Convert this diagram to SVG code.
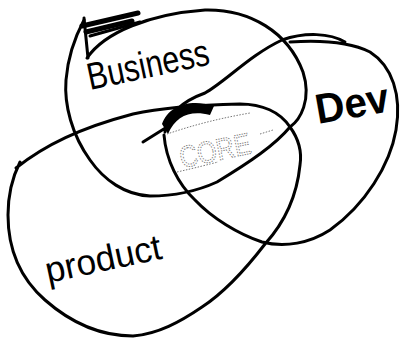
<svg xmlns="http://www.w3.org/2000/svg" width="404" height="343" viewBox="0 0 404 343">
<style>
.loop{fill:none;stroke:#000;stroke-width:3;stroke-linecap:round;stroke-linejoin:round}
.scrib{fill:none;stroke:#000;stroke-linecap:round}
.lbl{font-family:"Liberation Sans",Arial,sans-serif;fill:#000}
.core{fill:none;stroke:#777;stroke-width:1;stroke-dasharray:1.5 1.5}
</style>
<rect width="404" height="343" fill="#fff"/>
<g id="business">
<path class="loop" d="M87,58 C105,32 150,14 205,10 C250,9 288,32 303,72 C312,100 300,120 290,127 C275,145 250,162 217,182 C195,192 175,196 150,196 C125,195 104,180 90,160 C72,135 64,105 66,80 C68,55 76,35 84,20"/>
<path class="scrib" stroke-width="5" d="M82,26 L138,13 M86,32 L132,21"/>
<path class="scrib" stroke-width="3" d="M84,18 L88,58 M90,36 L140,22"/>
<text class="lbl" x="90" y="90" font-size="38" textLength="124" lengthAdjust="spacingAndGlyphs" transform="rotate(-12 90 90)">Business</text>
</g>
<g id="dev">
<path class="loop" d="M143,142 L167,127 M165,132 C168,115 180,102 205,93 C225,82 250,55 282,40 C305,32 330,33 345,42 M290,42 C320,40 350,42 370,52 C392,66 402,95 396,130 C390,165 365,205 330,230 C310,243 285,248 262,242 C238,234 212,218 195,200 C178,184 166,160 164,135"/>
<path d="M162,124 C168,106 190,98 214,106 L210,115 C190,110 176,116 168,134 Z" fill="#000"/>
<text class="lbl" x="318" y="124" font-size="42" font-weight="bold" textLength="74" lengthAdjust="spacingAndGlyphs" transform="rotate(-10 318 124)">Dev</text>
</g>
<g id="product">
<path class="loop" d="M16,168 C45,145 80,128 133,114 C165,107 200,105 240,104 C262,104 280,112 290,127 C298,138 302,152 300,165 C297,195 285,222 265,244 C245,270 225,292 202,307 C180,322 158,334 133,336 C100,336 70,322 45,300 C20,278 8,250 8,215 C8,195 12,178 20,162"/>
<text class="lbl" x="48" y="283" font-size="36" textLength="118" lengthAdjust="spacingAndGlyphs" transform="rotate(-12 48 283)">product</text>
</g>
<g id="core">
<path class="core" d="M167,134 C185,128 210,120 250,113 M177,172 C195,168 210,164 218,162 M260,134 L273,130"/>
<text x="182" y="168" font-family="Liberation Sans,Arial,sans-serif" font-size="30" fill="#fff" stroke="#777" stroke-width="1" stroke-dasharray="1.5 1.5" textLength="72" lengthAdjust="spacingAndGlyphs" transform="rotate(-12 182 168)">CORE</text>
</g>
</svg>
